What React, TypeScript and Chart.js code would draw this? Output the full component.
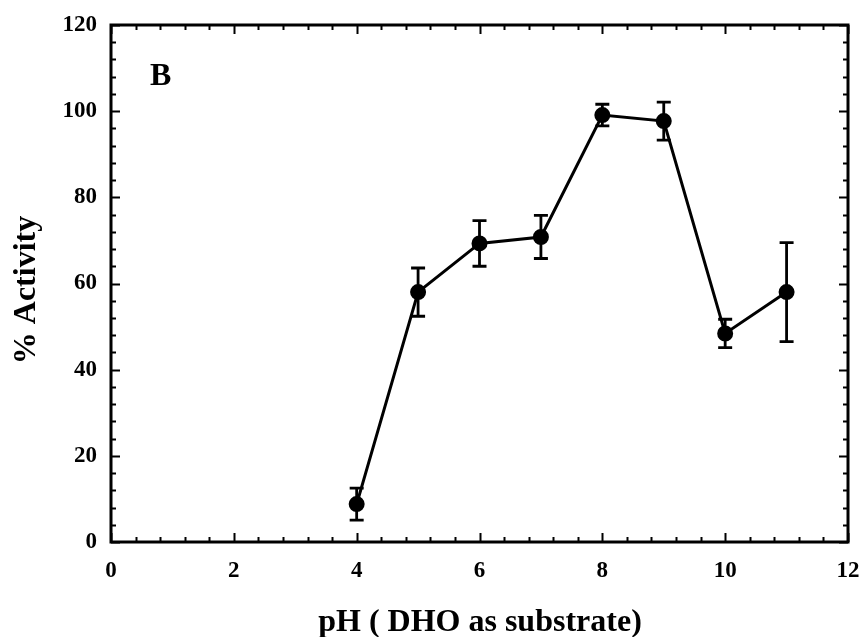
import React, { useEffect, useRef } from "react";
import { Chart, registerables } from "chart.js";

Chart.register(...registerables);

const phValues = [4, 5, 6, 7, 8, 9, 10, 11];
const activity = [8.8, 58.0, 69.3, 70.8, 99.1, 97.7, 48.4, 58.0];
const errors = [3.7, 5.6, 5.3, 5.0, 2.5, 4.4, 3.3, 11.5];
const xTicks = [0, 2, 4, 6, 8, 10, 12];
const yTicks = [0, 20, 40, 60, 80, 100, 120];
const xTitle = "pH ( DHO as substrate)";
const yTitle = "% Activity";
const panelLabel = "B";

const FONT = "'Liberation Serif', 'Times New Roman', serif";

const framePlugin = {
  id: "frameAndExtras",
  afterDatasetsDraw(chart: any) {
    const { ctx, chartArea, scales } = chart;
    const xs = scales.x;
    const ys = scales.y;
    ctx.save();
    // error bars
    ctx.strokeStyle = "#000";
    ctx.lineWidth = 2.8;
    phValues.forEach((ph, i) => {
      const px = xs.getPixelForValue(ph);
      const top = ys.getPixelForValue(activity[i] + errors[i]);
      const bot = ys.getPixelForValue(activity[i] - errors[i]);
      ctx.beginPath();
      ctx.moveTo(px, top);
      ctx.lineTo(px, bot);
      ctx.moveTo(px - 7, top);
      ctx.lineTo(px + 7, top);
      ctx.moveTo(px - 7, bot);
      ctx.lineTo(px + 7, bot);
      ctx.stroke();
    });
    // frame
    ctx.lineWidth = 3;
    ctx.strokeRect(chartArea.left, chartArea.top, chartArea.right - chartArea.left, chartArea.bottom - chartArea.top);
    // ticks (inward)
    ctx.lineWidth = 2;
    const xMin = xTicks[0], xMax = xTicks[xTicks.length - 1];
    const xStep = (xTicks[1] - xTicks[0]) / 5;
    for (let k = 0; xMin + k * xStep <= xMax + 1e-9; k++) {
      const v = xMin + k * xStep;
      const major = k % 5 === 0;
      const len = major ? 9 : 5;
      const px = Math.round(xs.getPixelForValue(v)) + 0.5;
      ctx.beginPath();
      ctx.moveTo(px, chartArea.bottom);
      ctx.lineTo(px, chartArea.bottom - len);
      ctx.moveTo(px, chartArea.top);
      ctx.lineTo(px, chartArea.top + len);
      ctx.stroke();
    }
    const yMin = yTicks[0], yMax = yTicks[yTicks.length - 1];
    const yStep = (yTicks[1] - yTicks[0]) / 5;
    for (let k = 0; yMin + k * yStep <= yMax + 1e-9; k++) {
      const v = yMin + k * yStep;
      const major = k % 5 === 0;
      const len = major ? 9 : 5;
      const py = Math.round(ys.getPixelForValue(v)) + 0.5;
      ctx.beginPath();
      ctx.moveTo(chartArea.left, py);
      ctx.lineTo(chartArea.left + len, py);
      ctx.moveTo(chartArea.right, py);
      ctx.lineTo(chartArea.right - len, py);
      ctx.stroke();
    }
    // texts
    ctx.fillStyle = "#000";
    ctx.font = `bold 32px ${FONT}`;
    ctx.textAlign = "center";
    ctx.textBaseline = "alphabetic";
    ctx.fillText(xTitle, 480, 631);
    ctx.save();
    ctx.translate(35, 290);
    ctx.rotate(-Math.PI / 2);
    ctx.fillText(yTitle, 0, 0);
    ctx.restore();
    ctx.font = `bold 32px ${FONT}`;
    ctx.textAlign = "left";
    ctx.fillText(panelLabel, 150, 85);
    ctx.restore();
  },
};

export default function App() {
  const ref = useRef<HTMLCanvasElement | null>(null);
  useEffect(() => {
    if (!ref.current) return;
    const chart = new Chart(ref.current, {
      type: "line",
      data: {
        datasets: [
          {
            data: phValues.map((x, i) => ({ x, y: activity[i] })),
            borderColor: "#000",
            backgroundColor: "#000",
            borderWidth: 3,
            pointRadius: 6.5,
            pointBackgroundColor: "#000",
            pointBorderColor: "#000",
            tension: 0,
          },
        ],
      },
      options: {
        animation: false,
        responsive: false,
        maintainAspectRatio: false,
        layout: { padding: { left: 0, top: 25, right: 17, bottom: 0 } },
        plugins: { legend: { display: false }, tooltip: { enabled: false } },
        scales: {
          x: {
            type: "linear",
            min: 0,
            max: 12,
            grid: { display: false, drawTicks: false },
            border: { display: false },
            afterBuildTicks: (s: any) => {
              s.ticks = xTicks.map((v) => ({ value: v }));
            },
            ticks: {
              color: "#000",
              font: { family: FONT, weight: "bold", size: 23 },
              padding: 15,
              maxRotation: 0,
            },
            afterFit: (s: any) => {
              s.height = 95;
              s.paddingLeft = 0;
              s.paddingRight = 0;
            },
          },
          y: {
            type: "linear",
            min: 0,
            max: 120,
            grid: { display: false, drawTicks: false },
            border: { display: false },
            afterBuildTicks: (s: any) => {
              s.ticks = yTicks.map((v) => ({ value: v }));
            },
            ticks: {
              color: "#000",
              font: { family: FONT, weight: "bold", size: 23 },
              padding: 14,
            },
            afterFit: (s: any) => {
              s.width = 111;
              s.paddingTop = 0;
              s.paddingBottom = 0;
            },
          },
        },
      },
      plugins: [framePlugin],
    });
    return () => chart.destroy();
  }, []);
  return (
    <div style={{ position: "absolute", left: 0, top: 0, width: 865, height: 637, background: "#fff" }}>
      <canvas ref={ref} width={865} height={637} style={{ width: 865, height: 637 }} />
    </div>
  );
}
